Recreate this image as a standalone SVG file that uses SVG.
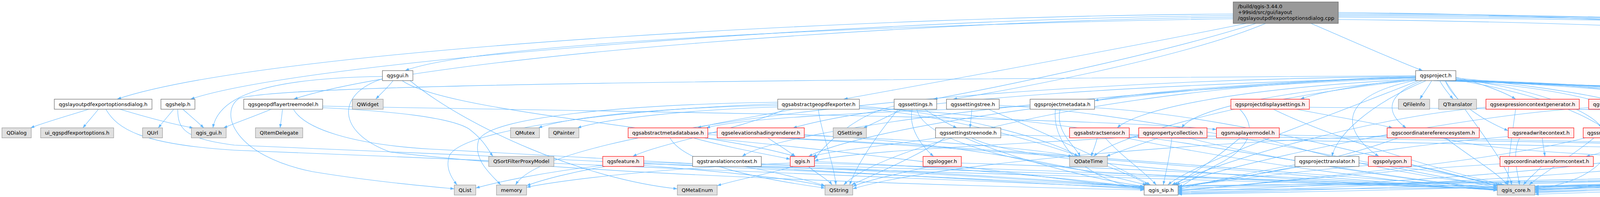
<svg xmlns="http://www.w3.org/2000/svg" width="6556" height="505" viewBox="0 0 6556 505">
<defs>
<marker id="a" markerUnits="userSpaceOnUse" markerWidth="11" markerHeight="8" refX="10" refY="3.5" orient="auto"><path d="M0,0 L10,3.5 L0,7 z" fill="#63b8ff"/></marker>
</defs>
<style>
.e path{fill:none;stroke:#63b8ff;stroke-width:1.1;marker-end:url(#a)}
rect{stroke-width:1.2}
.nw rect{fill:#ffffff;stroke:#666666}
.ng rect{fill:#e0e0e0;stroke:#999999}
.nr rect{fill:#fff0f0;stroke:#ff0000}
.nroot rect{fill:#999999;stroke:#666666}
text{font-family:"DejaVu Sans","Noto Sans",sans-serif;font-size:13px;fill:#000000;text-anchor:middle}
.nroot text{text-anchor:start}
</style>
<rect width="6556" height="505" fill="#ffffff" stroke="none"/>
<g id="edges" class="e">
<path d="M3157,36 C2300,40 700,120 300,254"/>
<path d="M3157,40 C2300,46 800,150 488,254"/>
<path d="M3157,44 C2400,52 1100,140 752,254"/>
<path d="M3157,48 C2500,58 1250,100 1037,181"/>
<path d="M3190,60 C2900,120 2400,210 2160,254"/>
<path d="M3215,60 C3000,130 2600,215 2390,254"/>
<path d="M3240,60 C3050,140 2650,220 2440,254"/>
<path d="M3356,60 C3450,100 3560,150 3642,181"/>
<path d="M3426,32 C4300,38 4900,110 5118,118"/>
<path d="M3426,35 C4400,38 5000,80 5320,108"/>
<path d="M3426,38 C4500,42 5300,80 5640,108"/>
<path d="M3426,41 C4600,46 5400,85 5765,108"/>
<path d="M3426,44 C4700,52 5500,90 5892,108"/>
<path d="M3426,50 C4400,60 5000,110 5309,153 C5500,175 5640,210 5648,267 C5650,300 5560,322 5475,328"/>
<path d="M227,280 C180,295 110,315 78,328"/>
<path d="M252,280 C240,295 225,312 212,328"/>
<path d="M307,280 C360,296 440,318 495,328"/>
<path d="M271,280 C300,330 360,370 600,385 C1500,420 2500,470 2929,482"/>
<path d="M445,280 C432,295 418,312 405,328"/>
<path d="M468,280 C485,295 505,312 522,328"/>
<path d="M455,280 C455,330 470,355 600,372 C1500,410 2600,460 2929,479"/>
<path d="M694,280 C660,295 610,312 572,328"/>
<path d="M723,280 C722,296 719,312 717,328"/>
<path d="M826,276 C1000,285 1150,300 1200,330 C1240,360 1250,385 1262,401"/>
<path d="M826,272 C1500,285 2800,300 3114,332"/>
<path d="M751,280 C780,330 900,370 1100,382 C1800,420 2600,465 2929,485"/>
<path d="M1006,207 C995,222 975,240 962,254"/>
<path d="M979,196 C700,200 560,240 545,328"/>
<path d="M1030,207 C1150,290 1800,330 2035,401"/>
<path d="M979,202 C860,240 860,340 1000,390 C1500,450 2500,478 2929,487"/>
<path d="M1050,207 C1200,330 1500,460 1734,484"/>
<path d="M1991,270 C1700,275 1450,300 1378,328"/>
<path d="M1991,274 C1750,282 1550,305 1478,328"/>
<path d="M2031,280 C1960,295 1840,312 1785,328"/>
<path d="M2010,280 C1900,330 1680,370 1620,401"/>
<path d="M2095,280 C2100,330 2135,420 2140,474"/>
<path d="M1991,266 C1600,280 1180,330 1150,400 C1140,430 1155,455 1170,474"/>
<path d="M1991,262 C1600,268 1250,300 1225,360 C1210,410 1260,450 1282,474"/>
<path d="M2200,272 C2450,290 2700,360 2760,401"/>
<path d="M2200,276 C2800,300 3500,460 3833,482"/>
<path d="M2200,278 C2500,300 2850,420 2940,474"/>
<path d="M2310,280 C2280,295 2240,315 2210,328"/>
<path d="M2367,280 C2390,295 2420,315 2450,328"/>
<path d="M2335,280 C2325,330 2360,375 2390,401"/>
<path d="M2347,280 C2360,340 2500,400 2800,440 C3300,470 3650,478 3833,484"/>
<path d="M2289,272 C2200,290 2120,360 2085,408"/>
<path d="M2300,280 C2240,350 2190,430 2175,474"/>
<path d="M2488,280 C2487,296 2485,312 2483,328"/>
<path d="M2558,270 C2900,285 3500,420 3833,480"/>
<path d="M2530,280 C2650,330 2850,420 2945,474"/>
<path d="M2400,353 C2300,370 2130,385 2080,401"/>
<path d="M2420,353 C2350,400 2220,455 2180,474"/>
<path d="M2487,353 C2600,420 3400,470 3833,485"/>
<path d="M2470,353 C2600,410 2800,460 2929,478"/>
<path d="M2562,346 C3300,360 4500,380 4815,401"/>
<path d="M2637,272 C2300,285 1900,300 1808,328"/>
<path d="M2714,280 C2700,340 2755,375 2765,401"/>
<path d="M2702,280 C2690,380 2800,470 2929,484"/>
<path d="M2802,276 C3200,300 3600,430 3845,474"/>
<path d="M3174,280 C3230,340 3180,390 3120,420 C3060,450 3030,475 3016,484"/>
<path d="M3260,280 C3400,350 3700,440 3850,474"/>
<path d="M3319,280 C3420,300 3520,315 3565,328"/>
<path d="M3352,275 C4500,285 6000,290 6261,325 C6300,345 6350,362 6538,364 C6350,366 6200,380 5976,417 C5800,430 5650,420 5577,416"/>
<path d="M2809,353 C2805,370 2798,388 2793,401"/>
<path d="M2829,353 C2870,400 2930,440 2960,474"/>
<path d="M2880,353 C3200,420 3600,470 3833,486"/>
<path d="M2891,345 C3700,360 5100,380 5502,408"/>
<path d="M2966,353 C2920,370 2860,390 2832,401"/>
<path d="M3000,353 C2995,400 2985,440 2978,474"/>
<path d="M3040,353 C3300,420 3650,465 3833,488"/>
<path d="M2915,350 C2600,370 2200,385 2085,412"/>
<path d="M3175,353 C3120,400 3050,450 3005,474"/>
<path d="M3230,353 C3450,420 3700,465 3840,474"/>
<path d="M3275,346 C4000,360 5100,385 5502,411"/>
<path d="M3700,353 C3760,400 3830,440 3860,474"/>
<path d="M3580,353 C3400,420 3150,460 3016,480"/>
<path d="M3551,348 C3000,370 2400,420 2183,484"/>
<path d="M3690,353 C3900,420 5100,420 5502,418"/>
<path d="M3948,353 C3950,370 3953,386 3955,401"/>
<path d="M3890,353 C3870,400 3885,440 3890,474"/>
<path d="M3861,350 C3500,380 3150,450 3016,486"/>
<path d="M3946,427 C3930,445 3910,460 3900,474"/>
<path d="M3840,420 C3500,440 3200,475 3016,488"/>
<path d="M4141,353 C4150,370 4165,388 4176,401"/>
<path d="M4128,353 C4120,420 4050,470 3929,484"/>
<path d="M4060,353 C3800,420 3300,460 3016,490"/>
<path d="M4208,345 C4700,360 5200,385 5502,414"/>
<path d="M4474,353 C4500,370 4528,388 4541,401"/>
<path d="M4454,353 C4450,430 4300,470 3929,486"/>
<path d="M4420,353 C4200,440 3400,475 3016,492"/>
<path d="M4524,348 C4650,360 4780,380 4820,401"/>
<path d="M4416,353 C4390,370 4350,390 4340,401"/>
<path d="M4610,353 C4550,370 4450,390 4410,401"/>
<path d="M4649,353 C4640,420 4400,460 3929,488"/>
<path d="M4688,353 C4730,370 4790,390 4825,401"/>
<path d="M4630,353 C4620,380 4600,395 4591,410"/>
<path d="M4813,353 C4825,370 4838,388 4845,401"/>
<path d="M4788,353 C4700,420 4300,470 3929,490"/>
<path d="M4760,353 C4400,440 3500,480 3016,494"/>
<path d="M5003,353 C4960,370 4910,390 4890,401"/>
<path d="M5021,353 C4990,420 4500,470 3929,492"/>
<path d="M4955,350 C4600,360 4300,380 4221,410"/>
<path d="M5420,353 C5460,370 5500,390 5512,401"/>
<path d="M5371,353 C5330,420 5000,455 3929,494"/>
<path d="M5385,353 C5400,420 5200,450 4400,460 C3800,470 3300,490 3016,496"/>
<path d="M5663,353 C5630,370 5590,390 5570,401"/>
<path d="M5677,353 C5620,420 5400,450 3929,498"/>
<path d="M5640,353 C5500,440 4000,480 3016,498"/>
<path d="M5892,353 C5800,380 5650,400 5577,410"/>
<path d="M5922,353 C5850,400 5500,440 3929,478"/>
<path d="M5936,353 C5800,420 5000,460 3016,476"/>
<path d="M6099,350 C5900,370 5700,395 5577,415"/>
<path d="M6105,353 C6000,380 5500,420 3929,482"/>
<path d="M6135,353 C6000,400 5000,450 3016,478"/>
<path d="M3727,198 C3780,210 3850,235 3880,254"/>
<path d="M3727,200 C3900,215 4050,240 4110,254"/>
<path d="M3700,207 C3720,260 3800,310 3861,335"/>
<path d="M3727,202 C3950,230 4080,290 4100,328"/>
<path d="M3727,204 C4200,220 4440,240 4455,328"/>
<path d="M3727,205 C4300,225 4520,280 4560,401"/>
<path d="M3727,206 C4400,225 4600,260 4645,328"/>
<path d="M3727,207 C4500,230 4700,270 4780,328"/>
<path d="M3710,207 C4600,235 4900,260 5015,328"/>
<path d="M3700,207 C4700,240 5150,280 5310,328"/>
<path d="M3690,207 C4900,240 5450,290 5615,328"/>
<path d="M3680,207 C5000,245 5700,300 5850,328"/>
<path d="M3670,207 C5200,250 5900,300 6105,328"/>
<path d="M3665,207 C3655,225 3642,242 3635,254"/>
<path d="M3686,207 C3695,225 3710,242 3720,254"/>
<path d="M3624,202 C3500,215 3380,235 3329,254"/>
<path d="M3624,198 C3200,210 2900,240 2802,258"/>
<path d="M3640,207 C3530,250 3560,300 3600,328"/>
<path d="M3624,206 C3400,250 3450,350 3530,401"/>
<path d="M3727,206 C4300,250 4250,360 4060,401"/>
<path d="M3624,200 C2800,230 2000,330 1900,401"/>
<path d="M3650,207 C3500,270 3420,350 3410,401"/>
<path d="M3624,196 C2900,220 2200,330 2070,401"/>
<path d="M3700,207 C3760,300 3860,420 3870,474"/>
<path d="M3630,207 C3400,300 3050,420 2990,474"/>
<path d="M3624,194 C2000,205 700,215 611,253 C560,290 600,400 800,440 C950,465 1100,478 1163,484"/>
<path d="M3624,196 C2500,205 1400,330 1320,474"/>
<path d="M3727,205 C4000,250 4150,330 4170,401"/>
<path d="M3727,206 C4500,240 4800,330 4835,401"/>
<path d="M3727,207 C4800,250 5400,330 5520,401"/>
<path d="M3624,198 C2800,220 2250,380 2160,474"/>
<path d="M3624,205 C3200,250 2850,350 2800,401"/>
<path d="M3624,199 C3000,215 2300,250 2030,328"/>
<path d="M3624,203 C3100,230 2900,290 2860,328"/>
<path d="M3624,205 C3200,240 3050,290 3025,328"/>
<path d="M5176,133 C5176,150 5176,165 5176,181"/>
<path d="M5221,133 C5280,150 5350,168 5400,181"/>
<path d="M5196,133 C5260,180 5350,230 5385,254"/>
<path d="M5214,207 C5260,225 5330,242 5364,254"/>
<path d="M5174,207 C5160,330 5050,420 4800,440 C4300,470 4000,478 3929,480"/>
<path d="M5250,201 C5800,230 6360,280 6364,333 C6366,380 6300,420 6000,443 C5000,470 3600,485 3016,486"/>
<path d="M5443,207 C5438,222 5428,240 5422,254"/>
<path d="M5526,198 C6000,215 6380,290 6383,337 C6386,380 6300,425 6200,436 C5600,460 4500,475 3929,484"/>
<path d="M5465,207 C5560,280 5560,340 5540,401"/>
<path d="M5440,280 C5480,330 5520,370 5530,401"/>
<path d="M5345,280 C5230,320 5210,400 5150,430 C4900,460 4200,475 3929,486"/>
<path d="M5486,276 C5900,285 6300,300 6309,333 C6312,370 6200,420 5976,430 C5000,450 3800,470 3016,482"/>
<path d="M3880,280 C3870,350 3860,420 3860,474"/>
<path d="M3804,275 C3500,300 3100,420 3000,474"/>
<path d="M4150,280 C4100,360 3950,440 3915,474"/>
<path d="M4067,276 C3700,300 3150,420 3010,474"/>
<path d="M3479,418 C3650,430 3780,460 3833,478"/>
<path d="M3330,427 C3200,450 3080,470 3016,478"/>
<path d="M1906,427 C1980,440 2060,460 2112,476"/>
<path d="M1949,420 C2600,440 3400,470 3833,480"/>
<path d="M1949,422 C2400,440 2800,470 2929,478"/>
<path d="M3613,422 C3700,440 3790,465 3833,476"/>
<path d="M3503,424 C3300,440 3100,470 3016,478"/>
<path d="M1543,424 C1400,440 1280,465 1218,482"/>
<path d="M1548,427 C1470,440 1390,460 1348,476"/>
<path d="M1648,420 C2500,440 3400,470 3833,484"/>
<path d="M1648,416 C2200,430 2700,465 2929,480"/>
<path d="M1648,424 C1850,440 2050,460 2112,478"/>
<path d="M2030,427 C1970,445 1880,462 1836,476"/>
<path d="M2085,418 C2800,440 3500,470 3833,486"/>
<path d="M2085,414 C2500,430 2800,465 2929,482"/>
<path d="M2023,418 C1700,430 1450,460 1348,480"/>
<path d="M2070,427 C2090,445 2120,460 2130,474"/>
<path d="M2380,427 C2300,445 2220,462 2183,478"/>
<path d="M2461,418 C3000,435 3500,465 3833,488"/>
<path d="M1773,353 C1850,375 1960,395 2023,408"/>
<path d="M1715,353 C1750,420 1950,460 2112,482"/>
<path d="M1812,345 C2600,380 3400,460 3833,488"/>
<path d="M1800,353 C2300,400 2700,460 2929,484"/>
<path d="M1812,340 C2300,350 2650,380 2745,401"/>
<path d="M1965,353 C1990,370 2020,388 2036,401"/>
<path d="M1995,353 C2600,380 3400,455 3833,480"/>
<path d="M2059,345 C2500,370 2800,440 2935,474"/>
</g>
<g id="n_root" class="nroot"><rect x="3157" y="5" width="269" height="55"/><text x="3169" y="21">/build/qgis-3.44.0</text><text x="3169" y="36">+99sid/src/gui/layout</text><text x="3169" y="51">/qgslayoutpdfexportoptionsdialog.cpp</text></g>
<g id="n_layertree" class="nw"><rect x="5118" y="107.7" width="116" height="25.7"/><text x="5176" y="125">qgslayertree.h</text></g>
<g id="n_moc" class="ng"><rect x="5309" y="107.7" width="299" height="25.7"/><text x="5458.5" y="125">moc_qgslayoutpdfexportoptionsdialog.cpp</text></g>
<g id="n_qcheckbox" class="ng"><rect x="5632" y="107.7" width="98" height="25.7"/><text x="5681" y="125">QCheckBox</text></g>
<g id="n_qpushbutton" class="ng"><rect x="5754" y="107.7" width="107" height="25.7"/><text x="5807.5" y="125">QPushButton</text></g>
<g id="n_qmenu" class="ng"><rect x="5885" y="107.7" width="69" height="25.7"/><text x="5919.5" y="125">QMenu</text></g>
<g id="n_qgsgui" class="nw"><rect x="979" y="181" width="78" height="25.7"/><text x="1018" y="198.4">qgsgui.h</text></g>
<g id="n_project" class="nw"><rect x="3624" y="181" width="103" height="25.7"/><text x="3675.5" y="198.4">qgsproject.h</text></g>
<g id="n_ltlayer" class="nr"><rect x="5102" y="181" width="148" height="25.7"/><text x="5176" y="198.4">qgslayertreelayer.h</text></g>
<g id="n_ltgroup" class="nr"><rect x="5372" y="181" width="154" height="25.7"/><text x="5449" y="198.4">qgslayertreegroup.h</text></g>
<g id="n_dialogh" class="nw"><rect x="139" y="254.3" width="250" height="25.7"/><text x="264" y="271.7">qgslayoutpdfexportoptionsdialog.h</text></g>
<g id="n_help" class="nw"><rect x="412" y="254.3" width="87" height="25.7"/><text x="455.5" y="271.7">qgshelp.h</text></g>
<g id="n_geopdfmodel" class="nw"><rect x="624" y="254.3" width="202" height="25.7"/><text x="725" y="271.7">qgsgeopdflayertreemodel.h</text></g>
<g id="n_qwidget" class="ng"><rect x="902" y="254.3" width="79" height="25.7"/><text x="941.5" y="271.7">QWidget</text></g>
<g id="n_absgeopdf" class="nw"><rect x="1991" y="254.3" width="209" height="25.7"/><text x="2095.5" y="271.7">qgsabstractgeopdfexporter.h</text></g>
<g id="n_settings" class="nw"><rect x="2289" y="254.3" width="109" height="25.7"/><text x="2343.5" y="271.7">qgssettings.h</text></g>
<g id="n_settingstree" class="nw"><rect x="2423" y="254.3" width="135" height="25.7"/><text x="2490.5" y="271.7">qgssettingstree.h</text></g>
<g id="n_projmeta" class="nw"><rect x="2637" y="254.3" width="165" height="25.7"/><text x="2719.5" y="271.7">qgsprojectmetadata.h</text></g>
<g id="n_projdisp" class="nr"><rect x="3151" y="254.3" width="201" height="25.7"/><text x="3251.5" y="271.7">qgsprojectdisplaysettings.h</text></g>
<g id="n_qfileinfo" class="ng"><rect x="3580" y="254.3" width="80" height="25.7"/><text x="3620" y="271.7">QFileInfo</text></g>
<g id="n_qtranslator" class="ng"><rect x="3683" y="254.3" width="97" height="25.7"/><text x="3731.5" y="271.7">QTranslator</text></g>
<g id="n_exprgen" class="nr"><rect x="3804" y="254.3" width="239" height="25.7"/><text x="3923.5" y="271.7">qgsexpressioncontextgenerator.h</text></g>
<g id="n_exprscopegen" class="nr"><rect x="4067" y="254.3" width="278" height="25.7"/><text x="4206" y="271.7">qgsexpressioncontextscopegenerator.h</text></g>
<g id="n_ltnode" class="nr"><rect x="5338" y="254.3" width="148" height="25.7"/><text x="5412" y="271.7">qgslayertreenode.h</text></g>
<g id="n_qdialog" class="ng"><rect x="5" y="327.7" width="75" height="25.7"/><text x="42.5" y="345.1">QDialog</text></g>
<g id="n_ui" class="ng"><rect x="104" y="327.7" width="187" height="25.7"/><text x="197.5" y="345.1">ui_qgspdfexportoptions.h</text></g>
<g id="n_qurl" class="ng"><rect x="365" y="327.7" width="51" height="25.7"/><text x="390.5" y="345.1">QUrl</text></g>
<g id="n_qgisgui" class="ng"><rect x="490" y="327.7" width="89" height="25.7"/><text x="534.5" y="345.1">qgis_gui.h</text></g>
<g id="n_qitemdelegate" class="ng"><rect x="654" y="327.7" width="121" height="25.7"/><text x="714.5" y="345.1">QItemDelegate</text></g>
<g id="n_qmutex" class="ng"><rect x="1307" y="327.7" width="74" height="25.7"/><text x="1344" y="345.1">QMutex</text></g>
<g id="n_qpainter" class="ng"><rect x="1405" y="327.7" width="77" height="25.7"/><text x="1443.5" y="345.1">QPainter</text></g>
<g id="n_absmeta" class="nr"><rect x="1608" y="327.7" width="204" height="25.7"/><text x="1710" y="345.1">qgsabstractmetadatabase.h</text></g>
<g id="n_elev" class="nr"><rect x="1836" y="327.7" width="223" height="25.7"/><text x="1947.5" y="345.1">qgselevationshadingrenderer.h</text></g>
<g id="n_qsettings" class="ng"><rect x="2133" y="327.7" width="85" height="25.7"/><text x="2175.5" y="345.1">QSettings</text></g>
<g id="n_stnode" class="nw"><rect x="2395" y="327.7" width="167" height="25.7"/><text x="2478.5" y="345.1">qgssettingstreenode.h</text></g>
<g id="n_abssensor" class="nr"><rect x="2738" y="327.7" width="153" height="25.7"/><text x="2814.5" y="345.1">qgsabstractsensor.h</text></g>
<g id="n_propcoll" class="nr"><rect x="2915" y="327.7" width="175" height="25.7"/><text x="3002.5" y="345.1">qgspropertycollection.h</text></g>
<g id="n_mlmodel" class="nr"><rect x="3114" y="327.7" width="161" height="25.7"/><text x="3194.5" y="345.1">qgsmaplayermodel.h</text></g>
<g id="n_crs" class="nr"><rect x="3551" y="327.7" width="236" height="25.7"/><text x="3669" y="345.1">qgscoordinatereferencesystem.h</text></g>
<g id="n_rwctx" class="nr"><rect x="3861" y="327.7" width="168" height="25.7"/><text x="3945" y="345.1">qgsreadwritecontext.h</text></g>
<g id="n_snap" class="nr"><rect x="4053" y="327.7" width="155" height="25.7"/><text x="4130.5" y="345.1">qgssnappingconfig.h</text></g>
<g id="n_colorscheme" class="nr"><rect x="4384" y="327.7" width="140" height="25.7"/><text x="4454" y="345.1">qgscolorscheme.h</text></g>
<g id="n_archive" class="nr"><rect x="4601" y="327.7" width="105" height="25.7"/><text x="4653.5" y="345.1">qgsarchive.h</text></g>
<g id="n_projversion" class="nw"><rect x="4730" y="327.7" width="150" height="25.7"/><text x="4805" y="345.1">qgsprojectversion.h</text></g>
<g id="n_projprop" class="nr"><rect x="4955" y="327.7" width="156" height="25.7"/><text x="5033" y="345.1">qgsprojectproperty.h</text></g>
<g id="n_mapthemes" class="nr"><rect x="5287" y="327.7" width="191" height="25.7"/><text x="5382.5" y="345.1">qgsmapthemecollection.h</text></g>
<g id="n_relmgr" class="nr"><rect x="5605" y="327.7" width="164" height="25.7"/><text x="5687" y="345.1">qgsrelationmanager.h</text></g>
<g id="n_editbuf" class="nr"><rect x="5844" y="327.7" width="231" height="25.7"/><text x="5959.5" y="345.1">qgsvectorlayereditbuffergroup.h</text></g>
<g id="n_mlstore" class="nr"><rect x="6099" y="327.7" width="153" height="25.7"/><text x="6175.5" y="345.1">qgsmaplayerstore.h</text></g>
<g id="n_qsfpm" class="ng"><rect x="1251" y="401" width="167" height="25.7"/><text x="1334.5" y="418.4">QSortFilterProxyModel</text></g>
<g id="n_feature" class="nr"><rect x="1543" y="401" width="105" height="25.7"/><text x="1595.5" y="418.4">qgsfeature.h</text></g>
<g id="n_transctx" class="nw"><rect x="1773" y="401" width="176" height="25.7"/><text x="1861" y="418.4">qgstranslationcontext.h</text></g>
<g id="n_qgis" class="nr"><rect x="2023" y="401" width="62" height="25.7"/><text x="2054" y="418.4">qgis.h</text></g>
<g id="n_logger" class="nr"><rect x="2363" y="401" width="98" height="25.7"/><text x="2412" y="418.4">qgslogger.h</text></g>
<g id="n_qdatetime" class="ng"><rect x="2738" y="401" width="97" height="25.7"/><text x="2786.5" y="418.4">QDateTime</text></g>
<g id="n_projtrans" class="nw"><rect x="3315" y="401" width="164" height="25.7"/><text x="3397" y="418.4">qgsprojecttranslator.h</text></g>
<g id="n_polygon" class="nr"><rect x="3503" y="401" width="110" height="25.7"/><text x="3558" y="418.4">qgspolygon.h</text></g>
<g id="n_ctctx" class="nr"><rect x="3840" y="401" width="239" height="25.7"/><text x="3959.5" y="418.4">qgscoordinatetransformcontext.h</text></g>
<g id="n_qhash" class="ng"><rect x="4155" y="401" width="66" height="25.7"/><text x="4188" y="418.4">QHash</text></g>
<g id="n_qtempdir" class="ng"><rect x="4297" y="401" width="120" height="25.7"/><text x="4357" y="418.4">QTemporaryDir</text></g>
<g id="n_qpair" class="ng"><rect x="4534" y="401" width="57" height="25.7"/><text x="4562.5" y="418.4">QPair</text></g>
<g id="n_qstringlist" class="ng"><rect x="4808" y="401" width="93" height="25.7"/><text x="4854.5" y="418.4">QStringList</text></g>
<g id="n_qobject" class="ng"><rect x="5502" y="401" width="75" height="25.7"/><text x="5539.5" y="418.4">QObject</text></g>
<g id="n_qlist" class="ng"><rect x="1163" y="474.3" width="55" height="25.7"/><text x="1190.5" y="491.7">QList</text></g>
<g id="n_memory" class="ng"><rect x="1271" y="474.3" width="77" height="25.7"/><text x="1309.5" y="491.7">memory</text></g>
<g id="n_qmetaenum" class="ng"><rect x="1734" y="474.3" width="102" height="25.7"/><text x="1785" y="491.7">QMetaEnum</text></g>
<g id="n_qstring" class="ng"><rect x="2112" y="474.3" width="71" height="25.7"/><text x="2147.5" y="491.7">QString</text></g>
<g id="n_qgissip" class="nw"><rect x="2929" y="474.3" width="87" height="25.7"/><text x="2972.5" y="491.7">qgis_sip.h</text></g>
<g id="n_qgiscore" class="ng"><rect x="3833" y="474.3" width="96" height="25.7"/><text x="3881" y="491.7">qgis_core.h</text></g>
</svg>
